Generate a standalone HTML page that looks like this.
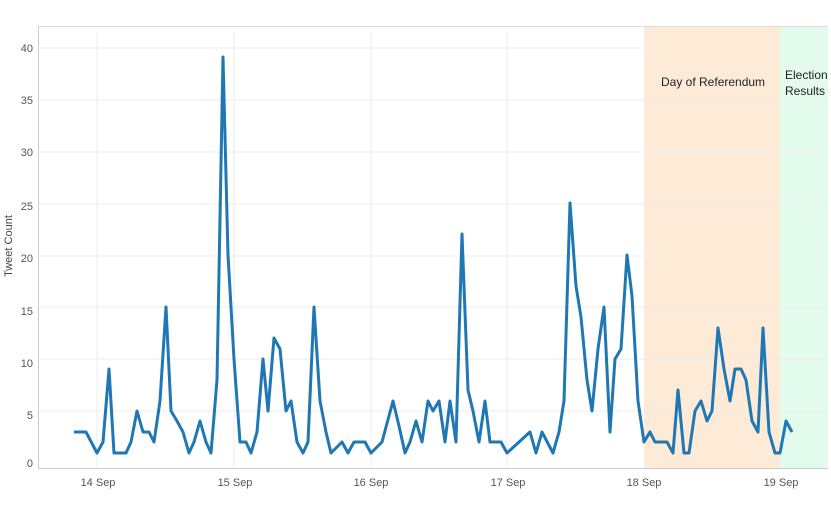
<!DOCTYPE html><html><head><style>body{margin:0;background:#fff}svg{display:block;font-family:"Liberation Sans",sans-serif}</style></head><body>
<svg width="831" height="516" viewBox="0 0 831 516">
<rect x="644" y="27" width="136" height="441" fill="#fdebd8"/>
<rect x="780" y="27" width="48" height="441" fill="#e3fbed"/>
<g stroke="#ececec" stroke-width="1">
<line x1="40" x2="828" y1="48" y2="48"/><line x1="40" x2="828" y1="100" y2="100"/><line x1="40" x2="828" y1="152" y2="152"/><line x1="40" x2="828" y1="204" y2="204"/><line x1="40" x2="828" y1="256" y2="256"/><line x1="40" x2="828" y1="307" y2="307"/><line x1="40" x2="828" y1="359" y2="359"/><line x1="40" x2="828" y1="411" y2="411"/>
<line x1="97" x2="97" y1="32" y2="468"/><line x1="234" x2="234" y1="32" y2="468"/><line x1="371" x2="371" y1="32" y2="468"/><line x1="507" x2="507" y1="32" y2="468"/>
</g>
<line x1="38" x2="828" y1="26.5" y2="26.5" stroke="#ddd"/>
<line x1="38.5" x2="38.5" y1="26" y2="469" stroke="#ccc"/>
<line x1="38" x2="828" y1="468.5" y2="468.5" stroke="#ccc"/>
<g fill="#555" font-size="11" text-anchor="end">
<text x="33" y="52">40</text><text x="33" y="104">35</text><text x="33" y="156">30</text><text x="33" y="210">25</text><text x="33" y="262">20</text><text x="33" y="315">15</text><text x="33" y="367">10</text><text x="33" y="419">5</text><text x="33" y="467">0</text>
</g>
<g fill="#555" font-size="11" text-anchor="middle">
<text x="98" y="486">14 Sep</text><text x="235" y="486">15 Sep</text><text x="371" y="486">16 Sep</text><text x="508" y="486">17 Sep</text><text x="644" y="486">18 Sep</text><text x="781" y="486">19 Sep</text>
</g>
<text transform="translate(12,246) rotate(-90)" fill="#444" font-size="11" text-anchor="middle">Tweet Count</text>
<g fill="#222" font-size="12">
<text x="661" y="86">Day of Referendum</text>
<text x="785" y="79">Election</text><text x="785" y="95">Results</text>
</g>
<polyline fill="none" stroke="#1f77b4" stroke-width="3" stroke-linejoin="round" points="
74,432 86,432 97,453 103,442 109,369 114,453 126,453 131,442 137,411 143,432 149,432 154,442 160,401 166,307 171,411 177,421 183,432 189,453 194,442 200,421 206,442 211,453 217,380 223,57 228,255 234,359 240,442 246,442 251,453 257,432 263,359 268,411 274,338 280,349 286,411 291,401 297,442 303,453 308,442 314,307 320,401 326,432 331,453 342,442 348,453 354,442 365,442 371,453 382,442 393,401 399,426 405,453 410,442 416,421 422,442 428,401 433,411 439,401 445,442 450,401 456,442 462,234 468,390 473,411 479,442 485,401 490,442 501,442 507,453 530,432 536,453 542,432 553,453 559,432 564,401 570,203 576,286 581,317 587,380 592,411 598,349 604,307 610,432 615,359 621,349 627,255 632,296 638,401 644,442 650,432 655,442 667,442 673,453 678,390 684,453 689,453 695,411 701,401 707,421 712,411 718,328 724,369 730,401 735,369 741,369 746,380 752,421 758,432 763,328 769,432 775,453 780,453 786,421 792,432"/>
</svg></body></html>
